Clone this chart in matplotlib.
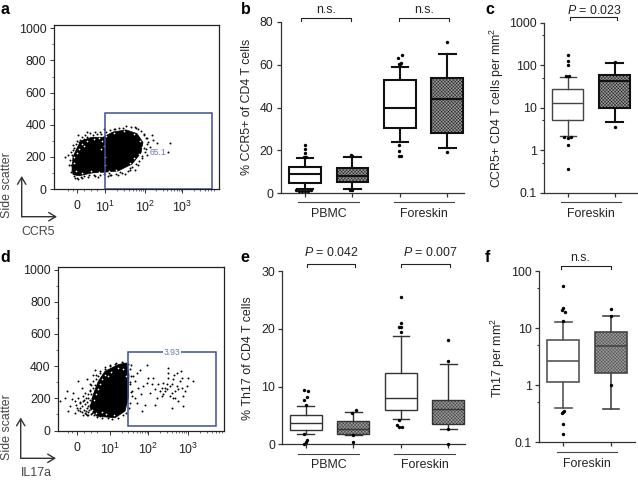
import numpy as np
import matplotlib
matplotlib.use("Agg")
import matplotlib.pyplot as plt
from matplotlib.patches import Polygon, Rectangle

plt.rcParams['font.family'] = ['Liberation Sans', 'DejaVu Sans']
plt.rcParams['mathtext.fontset'] = 'custom'
plt.rcParams['mathtext.rm'] = 'Liberation Sans'
plt.rcParams['mathtext.it'] = 'Liberation Sans:italic'
plt.rcParams['hatch.linewidth'] = 0.3

W, H = 638, 480
FS = 8.9
TXT = '#222222'
GATE = '#3f4f94'
GATE_TXT = '#6a78b0'

# ---- flow panels (x = display channel, y = side scatter) ----
flow_ticks_a = [23.3, 50.7, 91, 128.3]
flow_ticks_d = [18.4, 51.7, 90, 130]
flow_labels = ['0', r'$\mathrm{10^1}$', r'$\mathrm{10^2}$', r'$\mathrm{10^3}$']
flow_y = [0, 200, 400, 600, 800, 1000]

cloud_a_x = [19, 25, 38, 51, 64, 78, 87, 89, 83, 72, 59, 49, 38, 27, 23, 19, 18]
cloud_a_y = [90, 82, 100, 105, 112, 155, 225, 290, 345, 368, 355, 322, 322, 300, 255, 200, 130]
stray_a_x = [116, 114, 103, 99, 98, 96, 93, 11, 14, 24, 31, 33, 41, 50, 61, 69, 81, 84, 90, 94, 93, 88, 84, 81, 71,
             64, 54, 44, 34, 24, 21, 17, 15, 17, 19, 23, 28, 36, 46, 56, 76, 90,
             16, 17, 18, 20, 18, 19, 20, 22, 25, 26, 30, 33, 36, 39, 43, 47, 52, 56, 60, 65, 72, 77, 82, 87, 90, 92,
             93, 92, 91, 88, 85, 82, 78, 74, 68, 62, 57, 50, 46, 40, 35, 30, 27, 23, 20, 41, 66, 28, 55, 76]
stray_a_y = [284, 228, 284, 305, 336, 263, 315, 197, 212, 336, 336, 353, 357, 373, 373, 382, 386, 373, 336, 295, 212,
             191, 149, 118, 91, 87, 83, 77, 77, 60, 70, 108, 149, 232, 274, 299, 326, 346, 357, 87, 118, 253,
             180, 150, 120, 100, 210, 240, 255, 280, 295, 305, 310, 325, 320, 335, 340, 345, 355, 370, 375, 378, 390,
             385, 378, 360, 345, 320, 280, 250, 230, 205, 175, 155, 135, 115, 100, 95, 90, 92, 85, 85, 88, 82, 75, 70,
             80, 80, 108, 68, 98, 130]
speck_a_x = [22, 25, 28, 33, 40, 45, 48, 50, 47, 52, 60, 70, 80, 86, 88, 85, 80, 76, 70, 62, 55, 45, 37, 28, 20, 20,
             23, 30, 51, 51]
speck_a_y = [110, 250, 280, 300, 310, 320, 300, 270, 250, 330, 350, 360, 340, 300, 260, 220, 190, 160, 125, 120, 110,
             105, 110, 100, 160, 200, 225, 265, 150, 200]

cloud_d_x = [38.4, 56.7, 66.7, 70, 70.7, 68.4, 60, 46.7, 40, 35, 31.7]
cloud_d_y = [89, 79, 120, 203, 348, 420, 410, 368, 306, 224, 141]
stray_d_x = [1.7, 6.7, 8.4, 10, 11.7, 15, 16.7, 18.4, 19.4, 20, 21.7, 23.4, 25, 25, 26.7, 28.4, 28.4, 30, 31.7, 33.4,
             35, 36.7, 41.7, 46.7, 51.7, 56.7, 63.4, 30, 36.7, 33.4, 21.7, 16.7, 13.4, 26.7, 31.7,
             72.7, 75, 76.7, 78.4, 80, 81.7, 82.7, 84, 86.7, 88.4, 90, 91.7, 95, 96.7, 98.4, 100, 101.7, 103.4, 105,
             106.7, 108.4, 110, 110, 111.7, 113.4, 113.4, 115, 116, 116.7, 118.4, 118.4, 120, 121.7, 122.7, 123.4,
             125, 125, 126.7, 128.4, 130, 135, 74, 76.7, 78.4, 73.4, 71.7, 85, 88.4, 93.4, 96.7, 103.4, 108.4, 111.7,
             106.7, 105, 116.7, 120, 113.4, 110, 115, 123.4,
             22, 24, 26, 27, 28, 29, 30, 31, 32, 33, 34, 35, 28, 25, 30, 32, 35, 37, 38, 40, 42, 33, 36, 28, 24, 20, 22,
             18, 26, 30, 34, 37, 29, 39, 44, 50, 54, 60, 65, 68, 71, 72, 73, 72, 73, 72, 70, 65, 58, 52, 47, 42, 38, 35,
             33, 37, 34, 32, 36, 38, 36, 33]
stray_d_y = [182, 203, 244, 120, 151, 234, 110, 141, 306, 203, 120, 265, 182, 99, 234, 141, 317, 203, 286, 110,
             348, 379, 89, 385, 400, 414, 426, 99, 244, 161, 172, 182, 193, 110, 244,
             410, 337, 306, 358, 265, 379, 224, 120, 161, 410, 327, 234, 327, 161, 203, 286, 244, 265, 296,
             265, 255, 327, 389, 213, 286, 141, 317, 348, 244, 275, 358, 182, 306, 368, 265,
             151, 213, 244, 275, 327, 306, 244, 203, 172, 213, 286, 275, 296, 286, 255, 213, 286, 275,
             244, 224, 203, 255, 234, 358, 203, 327,
             140, 155, 130, 165, 120, 180, 150, 125, 190, 135, 205, 115, 200, 215, 225, 250, 265, 285, 320, 340, 355,
             100, 95, 105, 115, 130, 175, 160, 190, 115, 170, 130, 95, 85, 80, 75, 72, 75, 95, 110, 140, 170, 240, 300,
             340, 380, 415, 420, 418, 405, 395, 370, 345, 310, 280, 240, 145, 160, 180, 200, 155, 225]
speck_d_x = [50, 53, 47, 44, 42, 40, 38, 36, 34, 38, 60, 65, 68, 48, 56, 44]
speck_d_y = [340, 365, 345, 320, 290, 260, 225, 190, 130, 110, 390, 380, 340, 100, 95, 115]

# ---- panel b ----
b_q1 = [5, 5.1, 30.6, 28]
b_med = [8.9, 8, 40, 44]
b_q3 = [12.4, 12, 52.8, 53.7]
b_lo = [2.2, 2, 24, 21.3]
b_hi = [16.6, 17, 58.9, 65]
b_fx = [1, 1, 1, 1.02, .97, .82, .88, .94, 1, 1.06, 1.12, 1.96, 2, 1.95, 2, 2.96, 2.98, 3.05, 3.0, 3.03, 2.97, 2.97, 2.99, 3.02, 4, 4]
b_fy = [22.5, 20.6, 19, 17, 16.8, 1.5, 1.3, 1.3, 1.3, 1.3, 1.5, 17.7, 17.2, 1.5, 1.5, 63.2, 60.5, 64.4, 60.2, 60.7, 22.4, 19.9, 17.5, 17.5, 70.7, 19.3]

# ---- panel c ----
c_q1 = [5.1, 9.8]
c_med = [12.6, 42]
c_q3 = [27, 57.5]
c_lo = [2.19, 4.5]
c_hi = [53.6, 115]
c_fx = [1, 1, 1, .97, 1.03, .93, 1, 1.06, 1, 1, 2, 2]
c_fy = [173, 125, 99, 57, 55, 2.08, 1.9, 2.08, 1.35, .36, 121, 3.6]

# ---- panel e ----
e_q1 = [2.43, 1.85, 5.9, 3.6]
e_med = [3.76, 2.6, 8.03, 6.07]
e_q3 = [5.03, 4, 12.4, 7.75]
e_lo = [1.8, 1.6, 4.45, 2.7]
e_hi = [6.7, 5.55, 18.8, 13.9]
e_fx = [.96, 1.05, .96, 1.03, 1, .97, 1.02, 1, .97, 2.05, 1.97, 2, 2, 3, 3, 3.0, 2.97, 3, 2.97, 2.92, 2.97, 3.03, 4, 4, 4, 4]
e_fy = [9.5, 9.3, 7.6, 8.15, 6.8, 1.8, .75, .46, .06, 5.95, 5.5, 1.6, .4, 25.5, 21, 20.4, 20.4, 19.5, 4.15, 3.4, 2.95, 2.95, 18.15, 14.45, 2.7, 0]

# ---- panel f ----
f_q1 = [1.14, 1.64]
f_med = [2.69, 4.86]
f_q3 = [6.2, 8.4]
f_lo = [.394, .384]
f_hi = [12.8, 16.1]
f_fx = [1, .99, .97, 1.03, 1, 1.02, 1.0, .97, 1, 1, 2, 2, 2]
f_fy = [55.5, 22.2, 20.8, 19.4, 13.3, .36, .344, .32, .21, .14, 21.6, 16.2, 1.0]

fig = plt.figure(figsize=(W / 100, H / 100), dpi=100)


def px_axes(l, t, r, b):
    ax = fig.add_axes([l / W, 1 - b / H, (r - l) / W, (b - t) / H])
    ax.patch.set_alpha(0)
    return ax


def ftext(x, y, s, **kw):
    kw.setdefault('fontsize', FS)
    kw.setdefault('color', TXT)
    kw.setdefault('ha', 'center')
    kw.setdefault('va', 'center')
    fig.text(x / W, 1 - y / H, s, **kw)


def fline(xs, ys, **kw):
    fig.add_artist(plt.Line2D([x / W for x in xs], [1 - y / H for y in ys], **kw))


def arrows(x0, y0, x1, y1):
    for tip in [(x0, y1), (x1, y0)]:
        fig.add_artist(matplotlib.patches.FancyArrowPatch(
            (x0 / W, 1 - y0 / H), (tip[0] / W, 1 - tip[1] / H), transform=fig.transFigure,
            arrowstyle='->,head_width=3,head_length=5', lw=1.0, color='#333333', shrinkA=0, shrinkB=0))


def flow(box, ylim, ticks, cx, cy, sx, sy, wx, wy, gate, label, lab_xy):
    ax = px_axes(*box)
    ax.set_xlim(0, box[2] - box[0])
    ax.set_ylim(0, ylim)
    ax.add_patch(Polygon(np.column_stack([cx, cy]), closed=True, fc='black', ec='black', lw=0.5, zorder=2))
    ax.scatter(sx, sy, s=2.0, c='black', linewidths=0, zorder=2)
    ax.scatter(wx, wy, s=1.5, c='white', linewidths=0, zorder=2.1)
    ax.add_patch(Rectangle((gate[0], gate[1]), gate[2] - gate[0], gate[3] - gate[1], fill=False, ec=GATE, lw=1.1, zorder=3))
    ax.set_xticks(ticks)
    ax.set_xticklabels(flow_labels, fontsize=FS, color=TXT)
    ax.set_yticks(flow_y)
    ax.set_yticklabels([str(v) for v in flow_y], fontsize=FS, color=TXT)
    ax.tick_params(axis='both', length=3, width=0.7, pad=2.5, color='#333333')
    ax.tick_params(axis='x', pad=5)
    minx = []
    for i in (1, 2):
        minx += [ticks[i] + (ticks[i + 1] - ticks[i]) * np.log10(k) for k in range(2, 10)]
    minx += [ticks[3] + (ticks[3] - ticks[2]) * np.log10(k) for k in range(2, 8)]
    minx += [ticks[0] - 9, ticks[0] - 4.5, ticks[0] + 7, ticks[0] + 14, ticks[0] + 20]
    ax.set_xticks(minx, minor=True)
    ax.set_yticks(np.arange(0, 1001, 100), minor=True)
    ax.tick_params(axis='both', which='minor', length=1.5, width=0.5, color='#333333')
    for s in ax.spines.values():
        s.set_linewidth(0.9)
        s.set_color('#222222')
    bb = dict(fc='white', ec='none', pad=0.6) if label == '3.93' else None
    ax.text(lab_xy[0], lab_xy[1], label, fontsize=6.2, color=GATE_TXT, ha='center', va='center', bbox=bb, zorder=4)
    return ax


def boxes(box, xlim, ylim, q1, med, q3, lo, hi, fx, fy, lws, cols, log=False, yticks=None, ylabels=None):
    ax = px_axes(*box)
    pos = list(range(1, len(q1) + 1))
    stats = [dict(med=m, q1=a, q3=c, whislo=l, whishi=h, fliers=[]) for m, a, c, l, h in zip(med, q1, q3, lo, hi)]
    for i, p in enumerate(pos):
        col, lw = cols[i], lws[i]
        art = ax.bxp([stats[i]], positions=[p], widths=0.67, capwidths=0.35, showfliers=False, patch_artist=True,
                     boxprops=dict(edgecolor=col, linewidth=lw, facecolor='white' if i % 2 == 0 else '#9a9a9a',
                                   hatch=None if i % 2 == 0 else 'xxxxxxxxxx'),
                     medianprops=dict(color=col, linewidth=lw, solid_capstyle='butt'),
                     whiskerprops=dict(color=col, linewidth=lw), capprops=dict(color=col, linewidth=lw),
                     manage_ticks=False)
        for b_ in art['boxes']:
            b_.set_clip_on(False)
    ax.scatter(fx, fy, s=6, c='black', linewidths=0, zorder=5, clip_on=False)
    if log:
        ax.set_yscale('log')
    ax.set_xlim(*xlim)
    ax.set_ylim(*ylim)
    ax.set_xticks(pos)
    ax.set_xticklabels([])
    ax.set_yticks(yticks)
    ax.set_yticklabels(ylabels, fontsize=FS, color=TXT)
    if log:
        ax.set_yticks([5 * v for v in yticks[:-1]], minor=True)
        ax.set_yticklabels([], minor=True)
    ax.tick_params(axis='both', length=3.2, width=0.9, pad=2, color='#333333')
    ax.tick_params(axis='y', which='minor', length=1.8, width=0.8, color='#333333')
    for s in ('top', 'right'):
        ax.spines[s].set_visible(False)
    for s in ('left', 'bottom'):
        ax.spines[s].set_linewidth(0.9)
        ax.spines[s].set_color('#333333')
    return ax


def bracket(x0, x1, y, txt, tx, ty):
    fline([x0, x0, x1, x1], [y + 3, y, y, y + 3], color='#222222', lw=0.8)
    ftext(tx, ty, txt)


def group(x0, x1, y, txt, tx, ty):
    fline([x0, x1], [y, y], color='#444444', lw=0.8)
    ftext(tx, ty, txt)


P = r'$\mathit{P}$'

# a
flow((54, 24.5, 219, 189), 1024, flow_ticks_a, cloud_a_x, cloud_a_y, stray_a_x, stray_a_y, speck_a_x, speck_a_y,
     (50.7, 0, 158.3, 471), '65.1', (104, 230))
ftext(7, 185, 'Side scatter', rotation=90, color='#444444')
ftext(38, 232, 'CCR5', color='#444444')
arrows(21.7, 216.7, 57, 176)

# d
flow((58.3, 266.7, 223.7, 430.5), 1018, flow_ticks_d, cloud_d_x, cloud_d_y, stray_d_x, stray_d_y, speck_d_x, speck_d_y,
     (69.7, 27, 157.4, 486), '3.93', (113.4, 486))
ftext(6.7, 427, 'Side scatter', rotation=90, color='#444444')
ftext(36.7, 473, 'IL17a', color='#444444')
arrows(20.7, 458.3, 56, 417.5)

# b
boxes((280.7, 21.7, 464, 193.3), (.488, 4.35), (0, 80), b_q1, b_med, b_q3, b_lo, b_hi, b_fx, b_fy,
      [1.5] * 4, ['#111111'] * 4, yticks=[0, 20, 40, 60, 80], ylabels=['0', '20', '40', '60', '80'])
ftext(246.7, 107, '% CCR5+ of CD4 T cells', rotation=90)
bracket(301, 350.7, 18.3, 'n.s.', 326, 10)
bracket(399.3, 449.3, 18.3, 'n.s.', 424.3, 10)
group(298, 359, 201.7, 'PBMC', 328.7, 214)
group(393.7, 454.3, 201.7, 'Foreskin', 424, 214)

# c
boxes((544, 22.7, 638, 192.7), (.494, 2.5), (.1, 1000), c_q1, c_med, c_q3, c_lo, c_hi, c_fx, c_fy,
      [1.0, 1.5], ['#444444', '#111111'], log=True, yticks=[.1, 1, 10, 100, 1000],
      ylabels=['0.1', '1', '10', '100', '1000'])
ftext(496.7, 107.5, r'CCR5+ CD4 T cells per mm$^\mathrm{2}$', rotation=90)
bracket(570, 617.3, 17.3, P + ' = 0.023', 594, 10)
group(561, 620.7, 202.3, 'Foreskin', 590.7, 214)

# e
boxes((282.3, 271.3, 465, 444.3), (.507, 4.35), (0, 30), e_q1, e_med, e_q3, e_lo, e_hi, e_fx, e_fy,
      [1.0] * 4, ['#333333'] * 4, yticks=[0, 10, 20, 30], ylabels=['0', '10', '20', '30'])
ftext(247.7, 358, '% Th17 of CD4 T cells', rotation=90)
bracket(306.7, 355, 264.3, P + ' = 0.042', 331, 252.3)
bracket(401, 449.7, 264.3, P + ' = 0.007', 430, 252.3)
group(298.3, 359.3, 453.7, 'PBMC', 328.7, 465.3)
group(394.3, 455, 453.7, 'Foreskin', 424.7, 465.3)

# f
boxes((539.3, 271, 634.7, 442.3), (.497, 2.497), (.1, 100), f_q1, f_med, f_q3, f_lo, f_hi, f_fx, f_fy,
      [1.2, 1.2], ['#555555', '#444444'], log=True, yticks=[.1, 1, 10, 100],
      ylabels=['0.1', '1', '10', '100'])
ftext(498, 357.5, r'Th17 per mm$^\mathrm{2}$', rotation=90)
bracket(561.3, 610.7, 266.3, 'n.s.', 580.3, 258.3)
group(557.3, 617.3, 452.3, 'Foreskin', 587.3, 464)

# panel letters
for x, y, s in [(5, 10, 'a'), (245.7, 10, 'b'), (490, 10, 'c'), (5, 258, 'd'), (245, 258, 'e'), (487, 258, 'f')]:
    ftext(x, y, s, fontsize=11.5, fontweight='bold', color='black')

fig.savefig('out.png', dpi=100)
